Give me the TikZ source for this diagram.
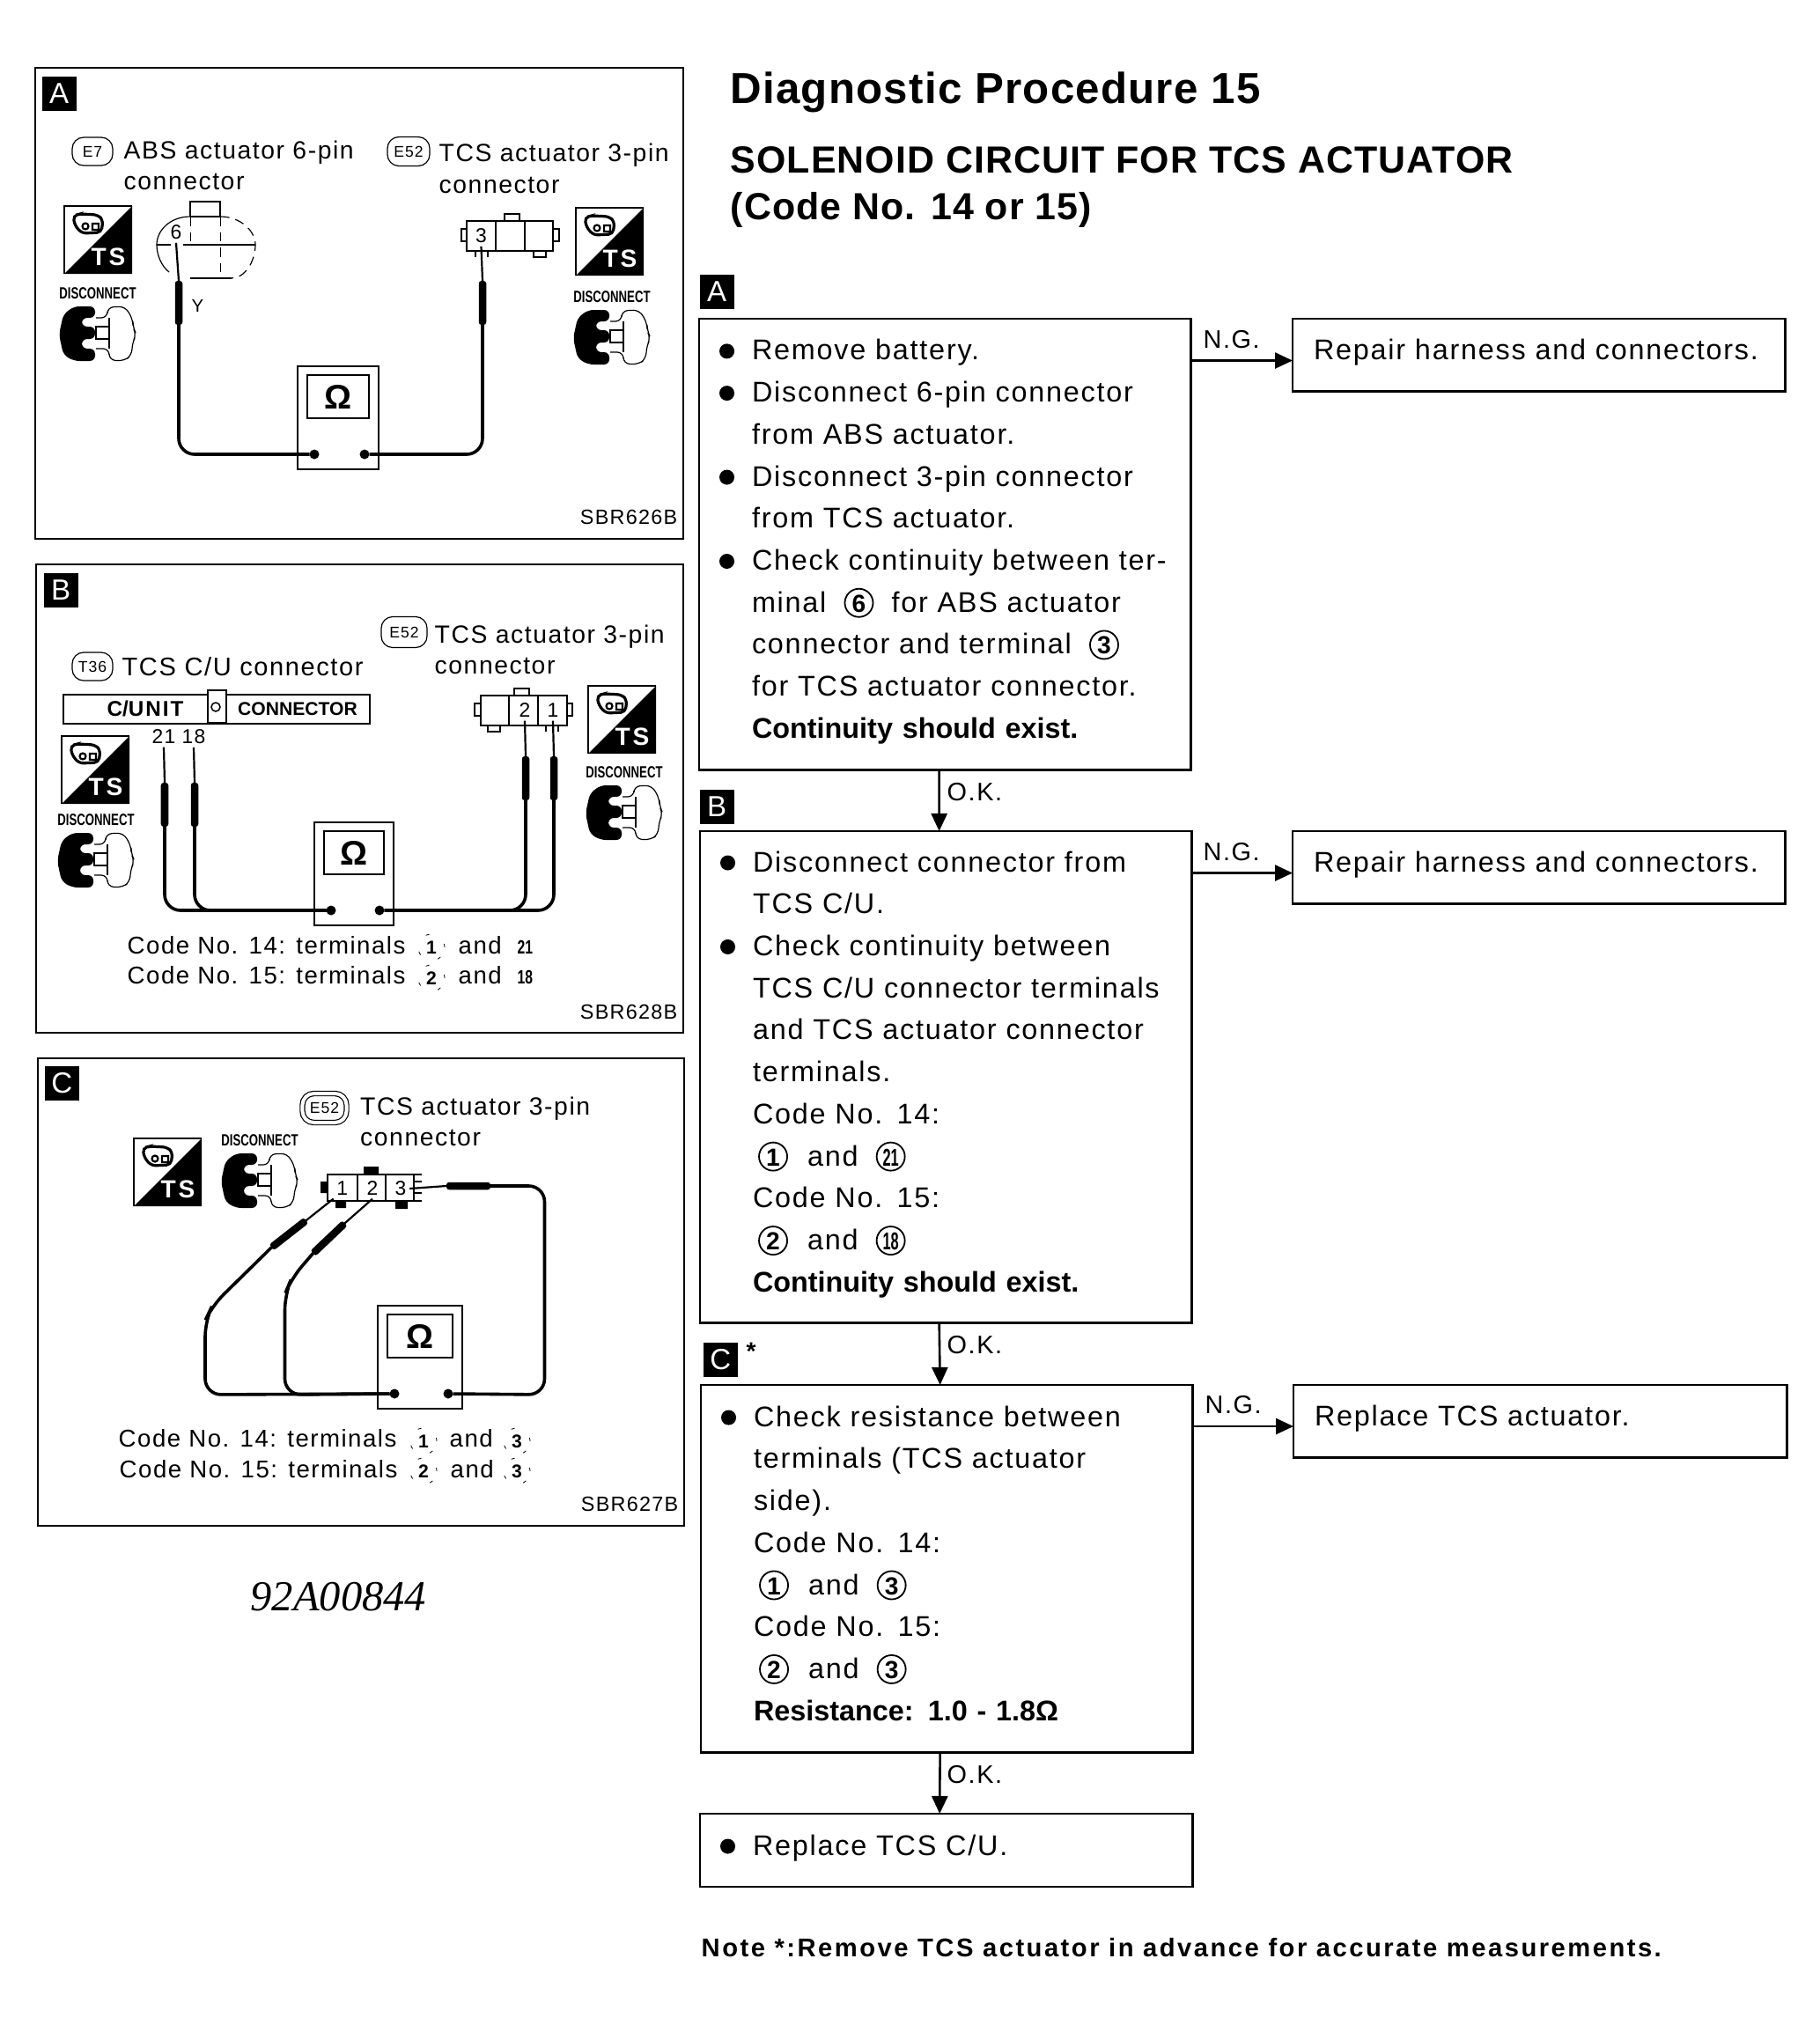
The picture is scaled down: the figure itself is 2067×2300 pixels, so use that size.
\documentclass[tikz,border=0pt]{standalone}
\usepackage{fontspec}
\usepackage{graphicx}
\usetikzlibrary{arrows.meta}
\setmainfont{Liberation Sans}[LetterSpace=5.5,BoldFeatures={LetterSpace=0}]
\newfontfamily\headfont{Liberation Sans}[LetterSpace=2.5]
\newfontfamily\notefont{Liberation Sans}[LetterSpace=8.5]
\newfontfamily\stampfont{Liberation Serif}
\newcommand{\flowsize}{\fontsize{9.2pt}{4.77mm}\selectfont}
\newcommand{\panelsize}{\fontsize{8.05pt}{10pt}\selectfont}
\newcommand{\codesize}{\fontsize{7.85pt}{10pt}\selectfont}
\newcommand{\pinsize}{\fontsize{6.5pt}{7pt}\selectfont}
% line helpers for the flow boxes
\newcommand{\lnst}{\rule[-1.6mm]{0pt}{4.3mm}}
\newcommand{\blt}{\lnst\makebox[6mm][l]{\hspace{2.3mm}\tikz[baseline=-1.0mm,x=1cm,y=1cm]\fill (0,0) circle (.85mm);}}
\newcommand{\ind}{\lnst\hspace*{6mm}}
\newcommand{\inr}{\lnst\hspace*{2.4mm}}
\newcommand{\cnum}[1]{\makebox[3.4mm]{\makebox[0pt]{\tikz[baseline=-1.05mm,x=1cm,y=1cm]\draw[line width=.18mm] (0,0) circle (1.6mm);}\makebox[0pt]{\bfseries\fontsize{8pt}{8pt}\selectfont #1}}}
\newcommand{\cnumn}[1]{\makebox[3.4mm]{\makebox[0pt]{\tikz[baseline=-1.05mm,x=1cm,y=1cm]\draw[line width=.18mm] (0,0) circle (1.6mm);}\makebox[0pt]{\bfseries\fontsize{7.5pt}{8pt}\selectfont\scalebox{.62}[1.05]{#1}}}}
\tikzset{
  % --- REPEATED ICONS (pixel units, origin top left) ---
  pics/ts-icon/.style={code={
    \draw[line width=.12mm] (0,77) -- (0,0) -- (77,0);
    \fill (77,0) -- (77,77) -- (0,77) -- cycle;
    \draw[line width=.32mm, rounded corners=.05cm, fill=white] (10,11) -- (18,9) -- (38,10) -- (44,16) -- (42,30) -- (20,31) -- (12,22) -- cycle;
    \draw[line width=.22mm] (24,23) circle (3.5) (32,20) rectangle (39,27);
    \node[font=\bfseries\fontsize{8pt}{8pt}\selectfont, text=white, inner sep=0] (-ts) at (50,58) {T\hspace{.03cm}S};
  }},
  pics/disc-icon/.style={code={
    \node[font=\bfseries\fontsize{3.75pt}{4pt}\selectfont, inner sep=0, anchor=south] (-label) at (44,-8) {\scalebox{1}[1.4]{DISCONNECT}};
    \fill[rounded corners=.06cm] (17,0) -- (41,0) -- (41,13) -- (26,13) -- (26,23) -- (41,23) -- (41,37) -- (26,37) -- (26,48) -- (41,48) -- (41,62) -- (17,62) -- (5,55) -- (0,32) -- (5,9) -- cycle;
    \draw[line width=.12mm, rounded corners=.07cm] (42,13) -- (55,13) -- (55,1) -- (75,0) -- (84,15) -- (84,24) -- (88,32) -- (83,42) -- (83,55) -- (74,62) -- (57,61) -- (57,48) -- (42,48);
    \draw[line width=.12mm] (42,23) rectangle (57,37) (57,13) -- (57,23) (57,37) -- (57,48);
  }},
  pics/ohm-meter/.style={code={
    \draw[line width=.15mm] (0,0) rectangle (#1,117);
    \draw[line width=.2mm] (11,10) rectangle ({#1-11},59);
    \node[font=\bfseries\fontsize{11pt}{12pt}\selectfont, inner sep=0] (-ohm) at ({#1/2},35) {Ω};
    \node[circle, fill=black, minimum size=.11cm, inner sep=0, outer sep=0] (-l) at (19,100) {};
    \node[circle, fill=black, minimum size=.11cm, inner sep=0, outer sep=0] (-r) at ({#1-16},100) {};
  }},
  pics/three-pin/.style={code={
    \draw[line width=.2mm] (0,0) rectangle (98,34) (33,0) -- (33,34) (66,0) -- (66,34);
    \draw[line width=.2mm] (43,0) -- (43,-8) -- (60,-8) -- (60,0);
    \draw[line width=.2mm] (0,9) -- (-6,9) -- (-6,23) -- (0,23);
    \draw[line width=.2mm] (98,9) -- (105,9) -- (105,23) -- (98,23);
    \draw[line width=.2mm] (76,34) -- (76,41) -- (90,41) -- (90,34);
    \draw[line width=.15mm] (10,34) -- (10,41) (24,34) -- (24,41);
  }},
  pics/six-pin/.style={code={
    \draw[line width=.12mm] (38,19) -- (38,2) -- (72,2) -- (72,19) -- (38,19);
    \draw[line width=.12mm] (14,82) .. controls (5,75) and (0,62) .. (0,51) .. controls (0,35) and (15,19) .. (38,19);
    \draw[line width=.12mm, densely dashed] (72,19) .. controls (95,19) and (112,35) .. (112,51) .. controls (112,70) and (100,89) .. (85,89);
    \draw[line width=.2mm] (85,89) -- (38,89);
    \draw[line width=.12mm] (0,51) -- (16,51) (30,51) -- (112,51);
    \draw[line width=.1mm, densely dashed] (38,19) -- (38,51) (72,19) -- (72,89);
  }}
}
\begin{document}
\begin{tikzpicture}[
      x=0.01cm, y=-0.01cm,
      % --- GLOBAL STYLES ---
      panel/.style={line width=.27mm},
      flow-box/.style={rectangle, draw=black, line width=.25mm, anchor=north west, inner sep=0, outer sep=0, align=left, font=\flowsize},
      badge/.style={rectangle, fill=black, text=white, anchor=north west, minimum size=.39cm, inner sep=0, font=\fontsize{9.4pt}{10pt}\selectfont},
      lbl/.style={anchor=base west, inner sep=0, font=\panelsize},
      code-lbl/.style={anchor=base west, inner sep=0, font=\codesize},
      flow-lbl/.style={anchor=base west, inner sep=0, font=\fontsize{8.2pt}{10pt}\selectfont},
      code-ref/.style={anchor=base east, inner sep=0, font=\fontsize{6.65pt}{8pt}\selectfont},
      pin-num/.style={inner sep=.03cm, font=\pinsize},
      dot-num/.style={circle, draw, line width=.08mm, dash pattern=on .04cm off .22cm, minimum size=.3cm, inner sep=0, font=\bfseries\fontsize{6pt}{7pt}\selectfont},
      small-num/.style={anchor=base west, inner sep=0, font=\bfseries\fontsize{6.2pt}{7pt}\selectfont},
      tag-oval/.style={rectangle, draw, line width=.12mm, rounded corners=.13cm, inner sep=0, font=\fontsize{5pt}{6pt}\selectfont},
      probe/.style={rectangle, fill=black, rounded corners=.03cm, minimum width=.085cm, minimum height=.5cm, inner sep=0, outer sep=0},
      tip/.style={line width=.22mm},
      wire/.style={line width=.36mm, rounded corners=.18cm},
      flow-arrow/.style={line width=.26mm, -{Triangle[length=.2cm,width=.18cm]}}
  ]
    \useasboundingbox (0,0) rectangle (2067,2300);
    %
    % 1. Headings
    \node[anchor=base west, inner sep=0, font=\headfont\bfseries\fontsize{14pt}{16pt}\selectfont] (title) at (829,117.5) {Diagnostic Procedure 15};
    \node[anchor=base west, inner sep=0, font=\headfont\bfseries\fontsize{12.2pt}{14pt}\selectfont] (subtitle) at (829,197) {SOLENOID CIRCUIT FOR TCS ACTUATOR};
    \node[anchor=base west, inner sep=0, font=\headfont\bfseries\fontsize{12.2pt}{14pt}\selectfont] (subcode) at (829,249) {(Code No. 14 or 15)};
    %
    % 2. Flow boxes
    \node[badge] (flowbadgeA) at (794,311) {A};
    \node[flow-box, text width=5.58cm, minimum height=5.12cm] (boxA) at (794,362) {%
      \blt Remove battery.\\
      \blt Disconnect 6-pin connector\\
      \ind from ABS actuator.\\
      \blt Disconnect 3-pin connector\\
      \ind from TCS actuator.\\
      \blt Check continuity between ter-\\
      \ind minal\hspace{2mm}\cnum{6}\hspace{2mm}for ABS actuator\\
      \ind connector and terminal\hspace{2mm}\cnum{3}\\
      \ind for TCS actuator connector.\\
      \ind\textbf{Continuity should exist.}};
    \node[badge] (flowbadgeB) at (794,896) {B};
    \node[flow-box, text width=5.58cm, minimum height=5.58cm] (boxB) at (795,944) {%
      \blt Disconnect connector from\\
      \ind TCS C/U.\\
      \blt Check continuity between\\
      \ind TCS C/U connector terminals\\
      \ind and TCS actuator connector\\
      \ind terminals.\\
      \ind Code No. 14:\\
      \ind\hspace{.6mm}\cnum{1}\hspace{2.2mm}and\hspace{2mm}\cnumn{21}\\
      \ind Code No. 15:\\
      \ind\hspace{.6mm}\cnum{2}\hspace{2.2mm}and\hspace{2mm}\cnumn{18}\\
      \ind\textbf{Continuity should exist.}};
    \node[badge] (flowbadgeC) at (798,1524) {C};
    \node[anchor=center, inner sep=0, font=\bfseries\fontsize{8pt}{9pt}\selectfont] (flowstar) at (853,1535) {*};
    \node[flow-box, text width=5.58cm, minimum height=4.17cm] (boxC) at (796,1573) {%
      \blt Check resistance between\\
      \ind terminals (TCS actuator\\
      \ind side).\\
      \ind Code No. 14:\\
      \ind\hspace{.6mm}\cnum{1}\hspace{2.2mm}and\hspace{2mm}\cnum{3}\\
      \ind Code No. 15:\\
      \ind\hspace{.6mm}\cnum{2}\hspace{2.2mm}and\hspace{2mm}\cnum{3}\\
      \ind\textbf{Resistance: 1.0 - 1.8Ω}};
    \node[flow-box, text width=5.59cm, minimum height=.83cm] (boxD) at (795,2060) {\blt Replace TCS C/U.};
    \node[flow-box, text width=5.59cm, minimum height=.825cm] (repairA) at (1468,362) {\inr Repair harness and connectors.};
    \node[flow-box, text width=5.59cm, minimum height=.825cm] (repairB) at (1468,944) {\inr Repair harness and connectors.};
    \node[flow-box, text width=5.60cm, minimum height=.825cm] (replaceC) at (1469,1573) {\inr Replace TCS actuator.};
    \node[anchor=base west, inner sep=0, font=\notefont\bfseries\fontsize{8.3pt}{9pt}\selectfont] (note) at (796,2222) {Note *:Remove TCS actuator in advance for accurate measurements.};
    %
    % 3. Flow links
    \draw[flow-arrow] ([yshift=-.475cm]boxA.north east) -- ([yshift=-.475cm]repairA.north west);
    \draw[flow-arrow] ([yshift=-.475cm]boxB.north east) -- ([yshift=-.475cm]repairB.north west);
    \draw[flow-arrow] ([yshift=-.47cm]boxC.north east) -- ([yshift=-.47cm]replaceC.north west);
    \draw[flow-arrow] ([xshift=-.065cm]boxA.south) -- ([xshift=-.075cm]boxB.north);
    \draw[flow-arrow] ([xshift=-.075cm]boxB.south) -- ([xshift=-.075cm]boxC.north);
    \draw[flow-arrow] ([xshift=-.075cm]boxC.south) -- ([xshift=-.075cm]boxD.north);
    \node[flow-lbl] (ngA) at (1366,395.5) {N.G.};
    \node[flow-lbl] (ngB) at (1366,977.5) {N.G.};
    \node[flow-lbl] (ngC) at (1368,1605.5) {N.G.};
    \node[flow-lbl] (okA) at (1075,909) {O.K.};
    \node[flow-lbl] (okB) at (1075,1537.5) {O.K.};
    \node[flow-lbl] (okC) at (1075,2025.5) {O.K.};
    %
    % 4. Panel A
    \draw[panel] (40,77) rectangle (776,612);
    \node[badge] (badgeA) at (47,86) {A};
    \node[tag-oval, minimum width=.46cm, minimum height=.32cm] (tagE7) at (105,172) {E7};
    \node[lbl] (absA1) at (140,180) {ABS actuator 6-pin};
    \node[lbl] (absA2) at (140,215.5) {connector};
    \node[tag-oval, minimum width=.48cm, minimum height=.33cm] (tagE52a) at (464,172) {E52};
    \node[lbl] (tcsA1) at (498,184) {TCS actuator 3-pin};
    \node[lbl] (tcsA2) at (498,219) {connector};
    \pic (tsA1) at (73,234) {ts-icon};
    \pic (tsA2) at (654,236) {ts-icon};
    \pic (discA1) at (67,348) {disc-icon};
    \pic (discA2) at (651,352) {disc-icon};
    \pic (sixA) at (178,227) {six-pin};
    \pic (threeA) at (530,251) {three-pin};
    \node[pin-num] (pinA6) at (200,264) {6};
    \node[pin-num] (pinA3) at (546.5,268) {3};
    \node[lbl, font=\fontsize{5.8pt}{7pt}\selectfont] (wireY) at (217,354) {Y};
    \pic (meterA) at (338,416) {ohm-meter=92};
    \node[probe] (probeA1) at (203,344) {};
    \node[probe] (probeA2) at (548,344) {};
    \draw[tip] (probeA1.north) -- (pinA6.south);
    \draw[tip] (probeA2.north) -- (pinA3.south);
    \draw[wire] (probeA1.south) |- (meterA-l);
    \draw[wire] (probeA2.south) |- (meterA-r);
    \node[code-ref] (refA) at (770,595) {SBR626B};
    %
    % 5. Panel B
    \draw[panel] (41,641) rectangle (776,1173);
    \node[badge] (badgeB) at (49,650) {B};
    \node[tag-oval, minimum width=.46cm, minimum height=.32cm] (tagT36) at (105,757) {T36};
    \node[lbl, font=\fontsize{8.25pt}{10pt}\selectfont] (tcuB) at (138,767.5) {TCS C/U connector};
    \node[tag-oval, minimum width=.52cm, minimum height=.35cm] (tagE52b) at (459,718) {E52};
    \node[lbl] (tcsB1) at (493,730) {TCS actuator 3-pin};
    \node[lbl] (tcsB2) at (493,765) {connector};
    \draw[line width=.2mm] (72,789) rectangle (420,822);
    \node[rectangle, draw, line width=.2mm, fill=white, minimum width=.21cm, minimum height=.37cm, inner sep=0, anchor=north west] (latchB) at (235,783) {};
    \node[circle, draw, line width=.15mm, minimum size=.1cm, inner sep=0] (latchhole) at (245,803) {};
    \node[inner sep=0, font=\bfseries\fontsize{6.9pt}{7pt}\selectfont] (cunitB) at (165,805) {C/U\hspace{.02cm}N\hspace{.02cm}I\hspace{.02cm}T};
    \node[inner sep=0, font=\bfseries\fontsize{6pt}{7pt}\selectfont] (connB) at (338,805) {CONNECTOR};
    \pic (tsB1) at (70,836) {ts-icon};
    \pic (tsB2) at (668,779) {ts-icon};
    \pic (discB1) at (65,946) {disc-icon};
    \pic (discB2) at (665,892) {disc-icon};
    \pic[xscale=-1] (threeB) at (644,790) {three-pin};
    \node[pin-num] (pinB2) at (596,807) {2};
    \node[pin-num] (pinB1) at (628,807) {1};
    \node[pin-num] (pinB21) at (186,837) {21};
    \node[pin-num] (pinB18) at (220,837) {18};
    \pic (meterB) at (357,934) {ohm-meter=90};
    \node[probe] (probeB1) at (187,914) {};
    \node[probe] (probeB2) at (221,914) {};
    \node[probe] (probeB3) at (597,884) {};
    \node[probe] (probeB4) at (629,884) {};
    \draw[tip] (probeB1.north) -- (pinB21.south);
    \draw[tip] (probeB2.north) -- (pinB18.south);
    \draw[tip] (probeB3.north) -- (pinB2.south);
    \draw[tip] (probeB4.north) -- (pinB1.south);
    \draw[wire] (probeB1.south) |- (meterB-l);
    \draw[wire] (probeB2.south) |- (meterB-l);
    \draw[wire] (probeB3.south) |- (meterB-r);
    \draw[wire] (probeB4.south) |- (meterB-r);
    \node[code-lbl] (codeB1) at (144,1083) {Code No. 14: terminals};
    \node[dot-num] (codeB1a) at (490,1076) {1};
    \node[code-lbl] (codeB1b) at (520,1083) {and};
    \node[small-num] (codeB1c) at (587,1083) {\scalebox{.72}[1]{21}};
    \node[code-lbl] (codeB2) at (144,1117.5) {Code No. 15: terminals};
    \node[dot-num] (codeB2a) at (490,1111) {2};
    \node[code-lbl] (codeB2b) at (520,1117.5) {and};
    \node[small-num] (codeB2c) at (587,1117.5) {\scalebox{.72}[1]{18}};
    \node[code-ref] (refB) at (770,1157) {SBR628B};
    %
    % 6. Panel C
    \draw[panel] (43,1202) rectangle (777,1733);
    \node[badge] (badgeC) at (50,1210) {C};
    \node[tag-oval, double, double distance=.04cm, minimum width=.5cm, minimum height=.33cm] (tagE52c) at (368.5,1258.5) {E52};
    \node[lbl] (tcsC1) at (408.5,1266) {TCS actuator 3-pin};
    \node[lbl] (tcsC2) at (408.5,1301.5) {connector};
    \pic (tsC) at (152,1293) {ts-icon};
    \pic (discC) at (251,1310) {disc-icon};
    \draw[line width=.2mm] (372,1334) rectangle (470,1364) (405.5,1334) -- (405.5,1364) (438,1334) -- (438,1364);
    \fill (413,1325) rectangle (430,1334) (449,1364) rectangle (463,1373) (364,1342) rectangle (372,1355) (381,1364) rectangle (393,1372);
    \draw[line width=.2mm] (470,1334) -- (479,1334) (470,1364) -- (479,1364) (470,1342) -- (479,1342) (470,1355) -- (479,1355);
    \node[pin-num] (pinC1) at (388.7,1350) {1};
    \node[pin-num] (pinC2) at (423,1350) {2};
    \node[pin-num] (pinC3) at (455,1350) {3};
    \pic (meterC) at (429,1483) {ohm-meter=96};
    \node[probe, rotate=-52] (probeC1) at (328,1401.5) {};
    \node[probe, rotate=-46.5] (probeC2) at (373.5,1406.5) {};
    \node[probe, rotate=90] (probeC3) at (532,1347) {};
    \draw[tip] (probeC1.north) -- (pinC1.south west);
    \draw[tip] (probeC2.north) -- (pinC2.south);
    \draw[tip] (probeC3.north) -- (pinC3.east);
    \draw[wire] (probeC1.south) -- (241,1483) -- (233,1500) -- (233,1584) -- (meterC-l);
    \draw[wire] (probeC2.south) -- (331,1452) -- (323.5,1470) -- (323.5,1584) -- (meterC-l);
    \draw[wire] (probeC3.south) -| (618.5,1584) -- (meterC-r);
    \node[code-lbl] (codeC1) at (134,1643.5) {Code No. 14: terminals};
    \node[dot-num] (codeC1a) at (481,1637) {1};
    \node[code-lbl] (codeC1b) at (510,1643.5) {and};
    \node[dot-num] (codeC1c) at (587,1637) {3};
    \node[code-lbl] (codeC2) at (135,1678) {Code No. 15: terminals};
    \node[dot-num] (codeC2a) at (481,1671) {2};
    \node[code-lbl] (codeC2b) at (511,1678) {and};
    \node[dot-num] (codeC2c) at (587,1671) {3};
    \node[code-ref] (refC) at (771,1716) {SBR627B};
    %
    % 7. Drawing number
    \node[anchor=base west, inner sep=0, font=\stampfont\itshape\fontsize{13.8pt}{16pt}\selectfont] (stamp) at (284,1829) {92A00844};
  \end{tikzpicture}
\end{document}
